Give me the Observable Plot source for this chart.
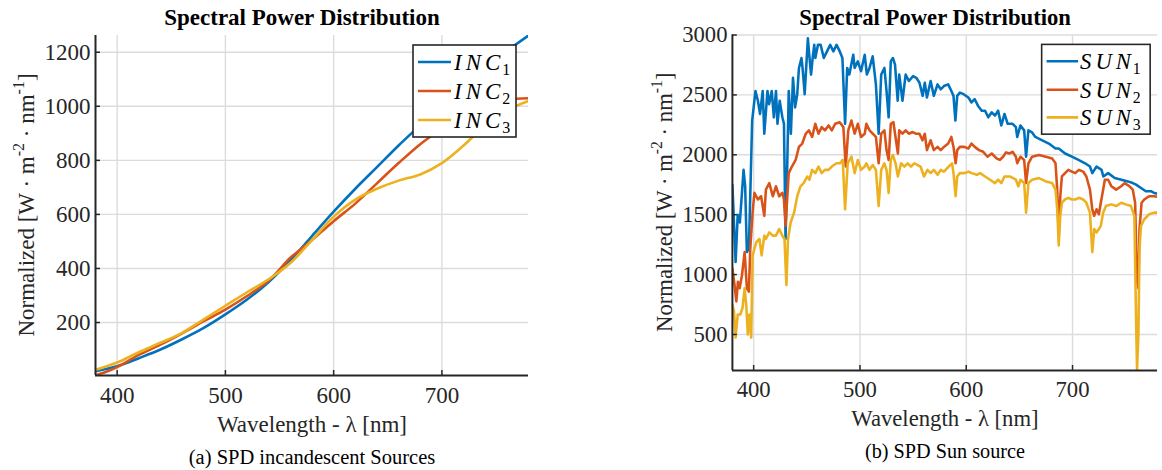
<!DOCTYPE html>
<html><head><meta charset="utf-8">
<script src="https://cdn.jsdelivr.net/npm/d3@7"></script>
<script src="https://cdn.jsdelivr.net/npm/@observablehq/plot@0.6"></script>
<style>
body{margin:0;background:#fff;}
#wrap{position:relative;width:1162px;height:470px;overflow:hidden;background:#fff;}
.panel{position:absolute;top:0;}
.panel svg, .panel svg text{font-family:'Liberation Serif','Times New Roman',serif !important;}
</style>
</head><body>
<div id="wrap"><div class="panel" id="left" style="left:0px"></div><div class="panel" id="right" style="left:580px"></div></div>
<script>
// ---- data ----
const xTicks = [400, 500, 600, 700];
const incTicks = [200, 400, 600, 800, 1000, 1200];
const sunTicks = [500, 1000, 1500, 2000, 2500, 3000];
const colors = ["#0072BD", "#D95319", "#EDB120"];
const incNames = ["INC", "INC", "INC"];
const sunNames = ["SUN", "SUN", "SUN"];

const inc1 = [[380,20],[400,38],[420,68],[440,100],[460,138],[480,180],[500,230],[520,285],[540,350],[560,430],[580,520],[600,610],[620,695],[640,775],[660,855],[680,930],[700,1005],[720,1075],[740,1145],[760,1205],[780,1262]];
const inc2 = [[380,5],[390,18],[400,35],[420,80],[440,118],[460,160],[480,205],[500,248],[520,298],[540,355],[560,440],[570,472],[580,505],[600,575],[620,640],[640,715],[660,790],[680,860],[700,918],[720,972],[740,1010],[760,1025],[780,1030]];
const inc3 = [[380,25],[400,52],[420,90],[440,125],[460,162],[480,212],[500,262],[520,312],[540,360],[560,420],[580,505],[600,592],[620,655],[640,695],[660,725],[680,748],[700,790],[720,855],[740,930],[760,985],[780,1020]];

const sun1 = [[380,1750],[383,1105],[385,1500],[387,1435],[390.5,1874],[392,1737],[393.6,1188],[395.5,1215],[398.6,2286],[401.7,2533],[404,2451],[406,2341],[408.5,2533],[410,2176],[413,2533],[414.5,2423],[417,2533],[419,2313],[421,2533],[422.4,2259],[424.5,2451],[427,2313],[428.5,2259],[430,1297],[431.5,1874],[433,2533],[435,2176],[437,2643],[439,2396],[441,2506],[442.6,2725],[445,2808],[446,2725],[448,2506],[451,2973],[452,2863],[454,2670],[455.5,2808],[457,2918],[458,2808],[460.5,2918],[463,2918],[466,2808],[469,2863],[472,2918],[475,2863],[478,2918],[481,2863],[483.5,2808],[486,2259],[488,2725],[490,2670],[493.7,2835],[495,2725],[498,2780],[501,2698],[504.5,2835],[506.5,2670],[509,2725],[512,2822],[515,2588],[517.6,2176],[520,2670],[523,2725],[525,2533],[527,2313],[529,2780],[531,2808],[533,2753],[535.5,2451],[537,2670],[540,2451],[543,2670],[546,2616],[550,2657],[553,2643],[556,2602],[559,2492],[561,2602],[563,2478],[566.5,2616],[569.5,2492],[573,2588],[576,2547],[579,2574],[583,2588],[586,2533],[588,2492],[589.8,2286],[591.5,2492],[594,2519],[597.5,2506],[602,2478],[605,2437],[608,2464],[611,2410],[614.6,2368],[617.7,2368],[620.7,2313],[624,2355],[627,2327],[630,2368],[633,2245],[636,2341],[639,2259],[643.6,2259],[646.7,2231],[648,2149],[651,2245],[654.5,2204],[656.3,1984],[658.5,2204],[661.6,2190],[665,2149],[671.5,2121],[677.7,2094],[684,2053],[687,2053],[693,2011],[699.4,1984],[705.6,1957],[711.8,1929],[716.4,1902],[718.6,1847],[722.6,1902],[727.3,1874],[729,1819],[733.5,1847],[739.7,1806],[746,1792],[752,1778],[756.7,1764],[759.8,1751],[764.4,1723],[769,1696],[773.7,1696],[776.8,1682],[780,1675]];

const sun2 = [[380,1050],[382,913],[383.7,776],[385.2,940],[386.8,886],[389,995],[391.5,1188],[393.6,886],[395.5,858],[396.8,1215],[399,1517],[400.7,1682],[404,1627],[407,1654],[410,1490],[411.5,1709],[414.7,1764],[418,1654],[421,1737],[424,1654],[427,1682],[428.5,1627],[430,1407],[431.5,1627],[433,1847],[436,1902],[439.5,1957],[442.6,2066],[445.7,2094],[449,2176],[452,2204],[455,2149],[458,2259],[461,2176],[464,2231],[467,2204],[470.5,2245],[473.5,2204],[476.7,2259],[481,2272],[484.4,2231],[486.6,1902],[489,2204],[492,2286],[495,2176],[498,2259],[501,2149],[504.5,2176],[506,2259],[509,2204],[512,2176],[515,2149],[517.6,1929],[520,2176],[523,2204],[525,2039],[527,1957],[529,2259],[531.5,2272],[533,2176],[535.7,2011],[537,2204],[540,2176],[543,2204],[546,2176],[549.5,2190],[552.6,2176],[556,2176],[558.8,2121],[561,2176],[563,2039],[566.5,2121],[569.5,2039],[573,2066],[576,2039],[579,2066],[583,2094],[586,2149],[588,2066],[590,1929],[591.5,2039],[594,2066],[598,2066],[602,2053],[605,2094],[608,2066],[612,2039],[616,2025],[620,1984],[624,2011],[628.5,1970],[631.5,1957],[634.7,1984],[637.4,2020],[640.5,2011],[643.6,2025],[646.7,1984],[648,1929],[651,1984],[654.5,1957],[656.3,1764],[658.5,1929],[662,1984],[668.4,1998],[675,1984],[680.8,1970],[684,1929],[685.6,1709],[687,1325],[688.5,1654],[690,1819],[693,1847],[696,1874],[699.4,1860],[702.5,1847],[706,1874],[710,1860],[713,1819],[716.4,1709],[718.6,1545],[720.4,1490],[722.6,1545],[724.8,1503],[726.6,1600],[728.8,1709],[730.4,1792],[733.5,1792],[736.6,1737],[741,1709],[745.8,1737],[749,1764],[753.6,1737],[756.7,1709],[758.9,1600],[760.7,940],[762,886],[763,1380],[765,1600],[767.5,1627],[772,1654],[776.8,1654],[780,1650]];

const sun3 = [[380,748],[381.5,693],[383,474],[385,666],[387.4,666],[389.5,721],[391.5,886],[393,748],[394.5,501],[396,666],[397.7,474],[399,1160],[400.7,1215],[402.5,1270],[405.4,1297],[407.5,1160],[410,1325],[411.5,1297],[414.7,1352],[418,1325],[421,1325],[424,1380],[427,1325],[429,1297],[430.8,913],[432.3,1297],[434.8,1435],[438,1517],[441,1654],[444,1737],[447,1764],[450.5,1819],[452.5,1792],[455,1874],[458,1847],[461,1902],[464,1847],[467,1874],[470.5,1874],[473.5,1902],[478,1929],[481,1929],[483.8,1957],[486,1545],[488.5,1929],[492,1984],[495,1847],[498,1957],[501,1874],[504.5,1902],[506,1929],[509,1874],[512,1915],[515,1874],[517.6,1572],[520,1874],[523,1929],[525,1874],[527,1682],[529,1957],[531,1998],[533.5,1929],[535.7,1819],[538.7,1929],[541.8,1902],[545,1929],[548,1902],[551,1929],[554,1915],[557,1902],[560.3,1819],[563.5,1874],[566.5,1847],[569.5,1874],[573,1833],[576,1874],[579,1860],[583.5,1902],[586.7,1929],[588,1847],[590,1654],[591.5,1819],[594,1847],[598.5,1847],[602,1860],[605,1847],[610,1833],[613,1847],[617.7,1819],[622.4,1792],[627,1764],[630,1792],[633,1764],[636,1819],[641,1819],[646.7,1792],[649,1737],[651,1792],[654.5,1764],[656.3,1517],[658.5,1764],[662,1792],[668.4,1806],[675,1778],[680.8,1764],[684,1709],[685.6,1545],[687,1243],[688.5,1490],[690,1600],[693,1627],[696,1641],[699.4,1627],[702.5,1627],[706,1641],[710,1627],[713,1600],[716.4,1517],[718.6,1188],[720.4,1380],[722.6,1352],[724.8,1380],[726.6,1407],[728.8,1517],[731.5,1572],[736.6,1586],[741,1572],[745.8,1600],[750,1586],[755,1572],[758.2,1490],[759.8,611],[760.7,205],[762,501],[763,1215],[764.4,1407],[767.5,1462],[772,1503],[776.8,1517],[780,1517]];

// ---- drawing ----
const FONT = "'Liberation Serif', 'Times New Roman', serif";
const gridStyle = {stroke: "#dcdcdc", strokeOpacity: 1, strokeWidth: 1.4};
const fmt = d3.format("d");

function panel(cfg) {
  const {series, curve, yDomain, yTicks, title, caption, width, marginLeft, marginRight, names, legendBox, legend} = cfg;
  const plot = Plot.plot({
    width, height: 470,
    marginTop: 35, marginBottom: 95, marginLeft, marginRight,
    style: {fontFamily: FONT, fontSize: "22px", color: "#262626", background: "transparent", overflow: "visible"},
    x: {domain: [380, 780]},
    y: {domain: yDomain},
    marks: [
      Plot.gridX(xTicks, gridStyle),
      Plot.gridY(yTicks, gridStyle),
      ...series.map((s, i) => Plot.line(s, {x: d => d[0], y: d => d[1], stroke: colors[i], strokeWidth: 2.6, curve, clip: true})),
      Plot.axisX(xTicks, {tickSize: 0, tickPadding: 11, label: null, fontSize: 23, fontFamily: FONT, fill: "#262626", tickFormat: fmt}),
      Plot.axisY(yTicks, {tickSize: 0, tickPadding: 5, label: null, fontSize: 23, fontFamily: FONT, fill: "#262626", tickFormat: fmt}),
      Plot.axisX(xTicks, {tickSize: -5, tickFormat: () => "", label: null, stroke: "#262626", strokeWidth: 1.5}),
      Plot.axisY(yTicks, {tickSize: -5, tickFormat: () => "", label: null, stroke: "#262626", strokeWidth: 1.5}),
      Plot.ruleX([380], {stroke: "#262626", strokeWidth: 2}),
      Plot.ruleY([yDomain[0]], {stroke: "#262626", strokeWidth: 2}),
      Plot.text([title], {text: d => d, frameAnchor: "top", lineAnchor: "middle", dy: -18, dx: cfg.titleDx, fontWeight: "bold", fontSize: 23, fontFamily: FONT, fill: "#000"}),
      Plot.text(["Wavelength - λ [nm]"], {text: d => d, frameAnchor: "bottom", lineAnchor: "middle", dy: 49, fontSize: 23, fontFamily: FONT, fill: "#262626"}),
      Plot.text([caption], {text: d => d, frameAnchor: "bottom", lineAnchor: "middle", dy: 82, fontSize: 20.5, fontFamily: FONT, fill: "#000"})
    ]
  });
  const svg = d3.select(plot);
  // y axis label with superscripts
  const yl = svg.append("text")
    .attr("transform", `translate(${cfg.yLabelX},205) rotate(-90)`)
    .attr("text-anchor", "middle")
    .attr("fill", "#262626")
    .style("font-family", FONT).style("font-size", "23px");
  yl.append("tspan").text("Normalized [W · m");
  yl.append("tspan").attr("dy", -10).style("font-size", "16px").text("-2");
  yl.append("tspan").attr("dy", 10).text(" · nm");
  yl.append("tspan").attr("dy", -10).style("font-size", "16px").text("-1");
  yl.append("tspan").attr("dy", 10).text("]");
  // legend
  const [lx, ly, lw, lh] = legendBox;
  const g = svg.append("g");
  g.append("rect").attr("x", lx).attr("y", ly).attr("width", lw).attr("height", lh)
    .attr("fill", "#fff").attr("stroke", "#262626").attr("stroke-width", 1.6);
  names.forEach((n, i) => {
    const cy = legend.rows[i];
    g.append("line").attr("x1", legend.sx1).attr("x2", legend.sx2).attr("y1", cy).attr("y2", cy)
      .attr("stroke", colors[i]).attr("stroke-width", 2.6);
    const t = g.append("text").attr("x", legend.tx).attr("y", cy + 8).attr("fill", "#000")
      .attr("text-anchor", "start")
      .style("font-family", FONT).style("font-size", "23px");
    t.append("tspan").style("font-style", "italic").style("letter-spacing", "4px").text(n);
    t.append("tspan").attr("dy", 5).attr("dx", -2).style("font-size", "16px").text(String(i + 1));
  });
  return plot;
}

document.getElementById("left").append(panel({
  series: [inc1, inc2, inc3], curve: "catmull-rom",
  yDomain: [4, 1262], yTicks: incTicks,
  title: "Spectral Power Distribution", caption: "(a) SPD incandescent Sources",
  width: 560, marginLeft: 95, marginRight: 32, yLabelX: 34, titleDx: -10,
  names: incNames, legendBox: [413, 45, 103, 92],
  legend: {rows: [62, 91, 120], sx1: 418, sx2: 451, tx: 454}
}));

document.getElementById("right").append(panel({
  series: [sun1, sun2, sun3], curve: "linear",
  yDomain: [200, 3000], yTicks: sunTicks,
  title: "Spectral Power Distribution", caption: "(b) SPD Sun source",
  width: 590, marginLeft: 154, marginRight: 5, yLabelX: 93, titleDx: -10,
  names: sunNames, legendBox: [468, 45, 110, 91],
  legend: {rows: [62, 91, 119], sx1: 473, sx2: 505, tx: 507}
}));
</script>
</body></html>
